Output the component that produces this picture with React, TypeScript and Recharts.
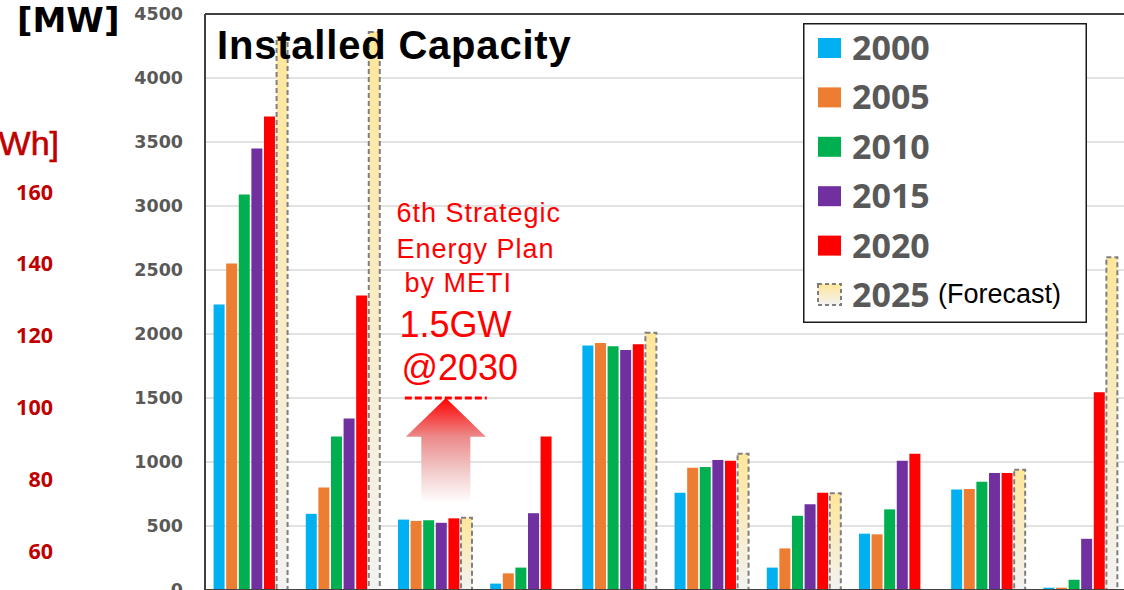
import React from "react";
import {
  BarChart,
  Bar,
  XAxis,
  YAxis,
  CartesianGrid,
  Legend,
  ReferenceLine,
  ReferenceArea,
} from "recharts";

// geothermal installed capacity by country [MW]
const countries = [
  "USA",
  "Indonesia",
  "Japan",
  "Kenya",
  "Philippines",
  "Mexico",
  "Iceland",
  "New Zealand",
  "Italy",
  "Turkey",
];
const cap2000 = [2230, 595, 550, 50, 1910, 760, 175, 440, 785, 18];
const cap2005 = [2550, 800, 540, 130, 1930, 955, 325, 435, 790, 18];
const cap2010 = [3090, 1200, 545, 175, 1905, 960, 580, 630, 845, 80];
const cap2015 = [3450, 1340, 525, 600, 1875, 1015, 670, 1010, 915, 400];
const cap2020 = [3700, 2300, 560, 1200, 1920, 1010, 760, 1065, 915, 1545];
const cap2025 = [4320, 4360, 565, null, 2010, 1065, 755, null, 940, 2600]; // forecast

const mwTicks = [0, 500, 1000, 1500, 2000, 2500, 3000, 3500, 4000, 4500];
// the second (cut-off) axis on the far left
const gwhTicks = [60, 80, 100, 120, 140, 160];
const gwhDomain = [49.1, 209.6];

// 6th Strategic Energy Plan target for Japan
const targetCountry = "Japan";
const target2030 = 1500;
const arrowFrom = 610;

const series = [
  { key: "y2000", name: "2000", values: cap2000, fill: "#00B0F0" },
  { key: "y2005", name: "2005", values: cap2005, fill: "#ED7D31" },
  { key: "y2010", name: "2010", values: cap2010, fill: "#00B050" },
  { key: "y2015", name: "2015", values: cap2015, fill: "#7030A0" },
  { key: "y2020", name: "2020", values: cap2020, fill: "#FF0000" },
  { key: "y2025", name: "2025", values: cap2025, fill: "url(#forecastFill)" },
];

const data = countries.map((country, i) => {
  const row: Record<string, any> = { country };
  series.forEach((s) => (row[s.key] = s.values[i]));
  return row;
});

const JapanTarget = (props: any) => {
  const { x, y, width, height } = props;
  const cx = x + width * 0.612;
  const headH = height * 0.34;
  const headW = width * 0.434;
  const shaftW = width * 0.266;
  const bottom = y + height;
  const pts = [
    [cx, y],
    [cx + headW, y + headH],
    [cx + shaftW, y + headH],
    [cx + shaftW, bottom],
    [cx - shaftW, bottom],
    [cx - shaftW, y + headH],
    [cx - headW, y + headH],
  ]
    .map((p) => p.join(","))
    .join(" ");
  const small = { fontFamily: "Liberation Sans", fontSize: 27, letterSpacing: 1, fill: "#FF0000" };
  const big = { fontFamily: "Liberation Sans", fontSize: 36, fill: "#FF0000" };
  return (
    <g>
      <polygon points={pts} fill="url(#arrowFill)" />
      <line
        x1={x + width * 0.167}
        x2={x + width * 1.056}
        y1={y}
        y2={y}
        stroke="#FF0000"
        strokeWidth={3}
        strokeDasharray="7 3"
      />
      <text x={x + 7} y={y - 176} {...small}>6th Strategic</text>
      <text x={x + 7} y={y - 140} {...small}>Energy Plan</text>
      <text x={x + 15} y={y - 106} {...small}>by METI</text>
      <text x={x + 10} y={y - 61} {...big}>1.5GW</text>
      <text x={x + 12} y={y - 18} {...big}>@2030</text>
    </g>
  );
};

const renderLegend = (props: any) => {
  const payload = props.payload || [];
  return (
    <svg width={284} height={300}>
      <rect x={0.75} y={0.75} width={282.5} height={298.5} fill="#fff" stroke="#1a1a1a" strokeWidth={1.5} />
      {payload.map((entry: any, i: number) => {
        const forecast = entry.value === "2025";
        const top = 15 + i * 49.4;
        return (
          <g key={entry.value}>
            {forecast ? (
              <rect
                x={15}
                y={top - 1}
                width={23}
                height={21}
                fill="url(#forecastFill)"
                stroke="#7F7F7F"
                strokeWidth={2}
                strokeDasharray="4 3"
              />
            ) : (
              <rect x={15} y={top} width={23} height={20} fill={entry.color} />
            )}
            <text
              x={49}
              y={top + 22}
              fontFamily="Open Sans"
              fontWeight={700}
              fontSize={34}
              fill="#595959"
            >
              {entry.value}
            </text>
            {forecast && (
              <text x={135} y={top + 18} fontFamily="Liberation Sans" fontSize={27} fill="#000">
                (Forecast)
              </text>
            )}
          </g>
        );
      })}
    </svg>
  );
};

export default function App() {
  return (
    <div
      style={{
        position: "absolute",
        left: 0,
        top: 0,
        width: 1124,
        height: 590,
        overflow: "hidden",
        background: "#fff",
      }}
    >
      <BarChart
        width={1140}
        height={640}
        data={data}
        margin={{ top: 14, right: 13, left: 0, bottom: 0 }}
        barCategoryGap="9.3%"
        barGap={1.6}
      >
        <defs>
          <linearGradient id="forecastFill" x1="0" y1="0" x2="0" y2="1">
            <stop offset="0%" stopColor="#FFE699" />
            <stop offset="100%" stopColor="#F2F2F2" />
          </linearGradient>
          <linearGradient id="arrowFill" x1="0" y1="0" x2="0" y2="1">
            <stop offset="0%" stopColor="#FF0000" />
            <stop offset="34%" stopColor="#EC8A8A" />
            <stop offset="62%" stopColor="#F2C6C6" />
            <stop offset="92%" stopColor="#FFFFFF" />
          </linearGradient>
        </defs>
        <CartesianGrid yAxisId="a" vertical={false} stroke="#D9D9D9" strokeWidth={1.5} />
        {/* country names sit below the visible area */}
        <XAxis
          dataKey="country"
          height={50}
          tickLine={false}
          tick={false}
          axisLine={{ stroke: "#404040", strokeWidth: 2 }}
        />
        {/* far-left axis of the chart behind, cut off */}
        <YAxis
          yAxisId="b"
          domain={gwhDomain}
          ticks={gwhTicks}
          interval={0}
          allowDataOverflow
          width={62}
          tickSize={0}
          tickMargin={9}
          tickLine={false}
          axisLine={false}
          tick={{ fill: "#C00000", fontSize: 21.5, fontWeight: 700, fontFamily: "Open Sans" }}
        />
        <YAxis
          yAxisId="a"
          domain={[0, 4500]}
          ticks={mwTicks}
          interval={0}
          width={143}
          tickSize={0}
          tickMargin={22}
          tickLine={false}
          axisLine={{ stroke: "#404040", strokeWidth: 2 }}
          tick={{ fill: "#595959", fontSize: 17.5, fontWeight: 700, fontFamily: "DejaVu Sans" }}
        />
        <ReferenceLine yAxisId="a" y={4500} stroke="#404040" strokeWidth={2} />
        {series.map((s) => (
          <Bar
            key={s.key}
            yAxisId="a"
            dataKey={s.key}
            name={s.name}
            fill={s.fill}
            stroke={s.key === "y2025" ? "#7F7F7F" : undefined}
            strokeWidth={s.key === "y2025" ? 2 : 0}
            strokeDasharray={s.key === "y2025" ? "5 3" : undefined}
            isAnimationActive={false}
          />
        ))}
        <ReferenceArea
          yAxisId="a"
          x1={targetCountry}
          x2={targetCountry}
          y1={arrowFrom}
          y2={target2030}
          shape={JapanTarget}
        />
        <Legend
          layout="horizontal"
          verticalAlign="middle"
          align="center"
          width={284}
          height={300}
          wrapperStyle={{ left: 803, top: 23, width: 284, height: 300 }}
          content={renderLegend}
        />
      </BarChart>
      <svg
        width={1124}
        height={590}
        style={{ position: "absolute", left: 0, top: 0, pointerEvents: "none" }}
      >
        <text x={17} y={32} fontFamily="DejaVu Sans" fontWeight={700} fontSize={34} fill="#000">
          [MW]
        </text>
        <text
          x={59}
          y={155}
          textAnchor="end"
          fontFamily="Liberation Sans"
          fontSize={34}
          fill="#C00000"
          stroke="#C00000"
          strokeWidth={0.6}
        >
          Wh]
        </text>
        <text
          x={217}
          y={59}
          fontFamily="Liberation Sans"
          fontWeight={700}
          fontSize={40}
          letterSpacing={0.8}
          fill="#000"
        >
          Installed Capacity
        </text>
      </svg>
    </div>
  );
}
